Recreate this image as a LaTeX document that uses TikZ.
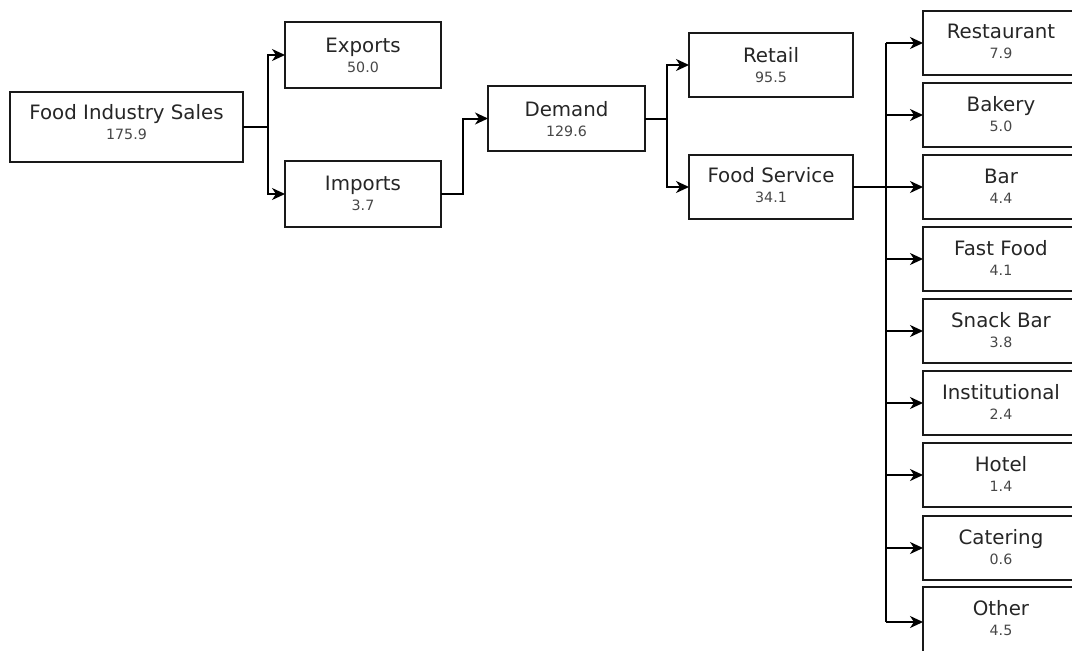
\documentclass[tikz,border=0pt]{standalone}
\usepackage{fontspec}
\setmainfont{DejaVu Sans}
\usetikzlibrary{arrows.meta}
\begin{document}
\begin{tikzpicture}[x=1pt,y=-1pt,
  box/.style={draw=black!90, line width=2.2pt, inner sep=0pt, outer sep=0pt, minimum width=156pt, minimum height=64pt},
  lab/.style={anchor=base, inner sep=0pt, text=black!85, font=\fontsize{19.8}{22}\selectfont},
  val/.style={anchor=base, inner sep=0pt, text=black!72, font=\fontsize{14.2}{16}\selectfont},
  conn/.style={draw=black, line width=2pt},
  arr/.style={conn, -{Stealth[length=13pt, width=12pt, inset=4pt]}}]
\useasboundingbox (0,0) rectangle (1072,651);
\clip (0,0) rectangle (1072,651);
\fill[white] (0,0) rectangle (1072,651);

% main boxes
\node[box, minimum width=233pt, minimum height=70pt] (fis) at (126.5,127) {};
\node[box, minimum height=66pt] (exp) at (363,55) {};
\node[box, minimum height=66pt] (imp) at (363,194) {};
\node[box, minimum width=157pt, minimum height=65pt] (dem) at (566.5,118.5) {};
\node[box, minimum width=164pt] (ret) at (771,65) {};
\node[box, minimum width=164pt] (fs) at (771,187) {};

% right column
\node[box] (rest) at (1001,43) {};
\node[box] (bak) at (1001,115) {};
\node[box] (bar) at (1001,187) {};
\node[box] (ff) at (1001,259) {};
\node[box] (snk) at (1001,331) {};
\node[box] (ins) at (1001,403) {};
\node[box] (hot) at (1001,475) {};
\node[box] (cat) at (1001,548) {};
\node[box, minimum height=70pt] (oth) at (1001,622) {};

% texts
\foreach \b/\l/\v/\o in {fis/Food Industry Sales/175.9/27, exp/Exports/50.0/30, imp/Imports/3.7/29,
  dem/Demand/129.6/30, ret/Retail/95.5/29, fs/Food Service/34.1/27,
  rest/Restaurant/7.9/27, bak/Bakery/5.0/28, bar/Bar/4.4/28, ff/Fast Food/4.1/28,
  snk/Snack Bar/3.8/28, ins/Institutional/2.4/28, hot/Hotel/1.4/28, cat/Catering/0.6/28, oth/Other/4.5/28}{
  \node[lab] (\b-l) at ([yshift=-\o pt]\b.north) {\l};
  \node[val] (\b-v) at ([yshift=-\o pt-20.5pt]\b.north) {\v};
}

% connectors
\draw[conn] (fis.east) -- ++(25,0) coordinate (j1);
\draw[arr] (j1) |- (exp.west);
\draw[arr] (j1) |- (imp.west);
\draw[arr] (imp.east) -- ++(21.5,0) |- (dem.west);
\draw[conn] (dem.east) -- ++(22,0) coordinate (j2);
\draw[arr] (j2) |- (ret.west);
\draw[arr] (j2) |- (fs.west);
\draw[arr] (fs.east) -- (bar.west);
\coordinate (bus) at (886,0);
\draw[conn, line width=2.4pt] (bus |- rest.west) -- (bus |- oth.west);
\foreach \b in {rest,bak,ff,snk,ins,hot,cat,oth}{
  \draw[arr] (bus |- \b.west) -- (\b.west);
}
\end{tikzpicture}
\end{document}
